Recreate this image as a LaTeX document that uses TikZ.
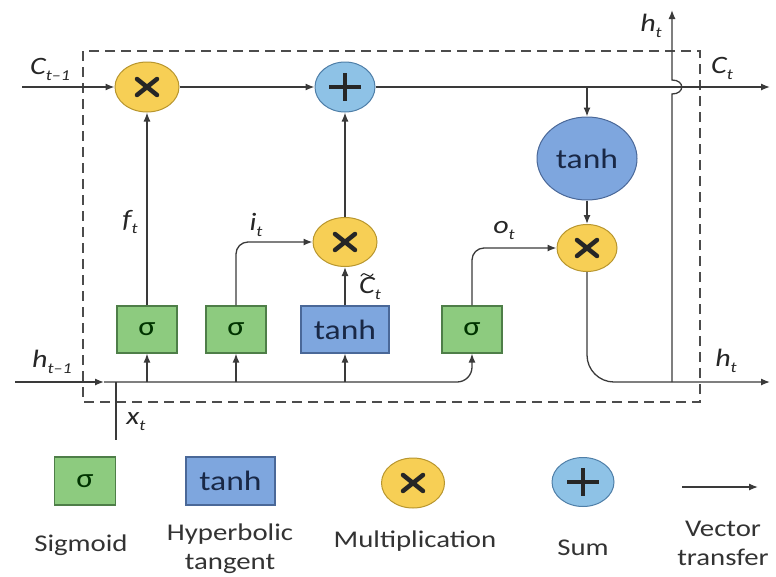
\documentclass[tikz,border=0pt]{standalone}
\usepackage{fontspec}
\setmainfont[FakeStretch=1.2]{Carlito}
\usetikzlibrary{shapes.geometric,arrows.meta}
\definecolor{linec}{HTML}{3A3A3A}
\definecolor{yelf}{HTML}{F7CF55}
\definecolor{yeld}{HTML}{B8962E}
\definecolor{bluf}{HTML}{8EC2E6}
\definecolor{blud}{HTML}{4F7FA8}
\definecolor{tanf}{HTML}{7EA6DE}
\definecolor{tand}{HTML}{4A6898}
\definecolor{grnf}{HTML}{8DCB7F}
\definecolor{grnd}{HTML}{4E7E48}
\definecolor{txtc}{HTML}{333333}
\newcommand\vlab[2]{{\fontsize{25}{25}\selectfont\itshape #1}\raisebox{-6pt}{\fontsize{15}{15}\selectfont\itshape #2}}
\tikzset{
  wire/.style={draw=linec, line width=1.3pt},
  arr/.style={wire, -{Latex[length=9pt,width=7pt]}},
  mulnode/.style={ellipse, draw=yeld, fill=yelf, line width=1pt, inner sep=0pt},
  addnode/.style={ellipse, draw=blud, fill=bluf, line width=1pt, inner sep=0pt},
  sigbox/.style={rectangle, draw=grnd, fill=grnf, line width=1.2pt, minimum width=60pt, minimum height=47pt, inner sep=0pt, font=\fontsize{27}{27}\selectfont, text=green!20!black},
  tanbox/.style={rectangle, draw=tand, fill=tanf, line width=1.2pt, minimum width=88pt, minimum height=47pt, inner sep=0pt, font=\fontsize{28}{28}\selectfont, text={rgb,255:red,25;green,40;blue,70}},
  vlabel/.style={inner sep=0pt, text=black!85},
  legtext/.style={inner sep=0pt, font=\fontsize{24}{29}\selectfont, text=txtc, align=center},
  xmark/.style={line width=4.5pt, line cap=round, black!85},
  pmark/.style={line width=4pt, black!85},
}
\newcommand\crossat[1]{\draw[xmark] ([shift={(-10,-8)}]#1.center) -- ([shift={(10,8)}]#1.center);
  \draw[xmark] ([shift={(-10,8)}]#1.center) -- ([shift={(10,-8)}]#1.center);}
\newcommand\plusat[1]{\draw[pmark] ([shift={(-16,0)}]#1.center) -- ([shift={(16,0)}]#1.center);
  \draw[pmark] ([shift={(0,-14)}]#1.center) -- ([shift={(0,14)}]#1.center);}
\begin{document}
\begin{tikzpicture}[x=1pt,y=-1pt]
\useasboundingbox (0,0) rectangle (776,576);
% dashed cell border
\draw[draw=black!70, line width=1.6pt, dash pattern=on 10pt off 6pt] (83,51) rectangle (700,402);
% nodes
\node[mulnode, minimum width=64pt, minimum height=50pt] (mf) at (147,87) {};
\node[addnode, minimum width=60pt, minimum height=50pt] (add) at (345,87) {};
\node[mulnode, minimum width=64pt, minimum height=49pt] (mi) at (345,242) {};
\node[ellipse, draw=tand, fill=tanf, line width=1pt, inner sep=0pt, minimum width=100pt, minimum height=83pt, font=\fontsize{28}{28}\selectfont, text={rgb,255:red,25;green,40;blue,70}] (te) at (587,158.5) {tanh};
\node[mulnode, minimum width=60pt, minimum height=47pt] (mo) at (587,248) {};
\node[sigbox] (s1) at (147,329.5) {σ};
\node[sigbox] (s2) at (236,329.5) {σ};
\node[tanbox] (tb) at (345,329.5) {tanh};
\node[sigbox] (s3) at (472,329.5) {σ};
\crossat{mf}\crossat{mi}\crossat{mo}\plusat{add}
% coordinates
\coordinate (cin) at (22,87);
\coordinate (cout) at (770,87);
\coordinate (ctap) at (587,87);
\coordinate (hin) at (15,382);
\coordinate (hend) at (104,382);
\coordinate (hout) at (770,382);
\coordinate (xtop) at (116,382);
\coordinate (xbot) at (116,440);
\coordinate (hbase) at (672,382);
\coordinate (hop1) at (672,94);
\coordinate (hop2) at (672,80);
\coordinate (htop) at (672,10);
% cell state line
\draw[arr] (cin) -- (mf);
\draw[arr] (mf) -- (add);
\draw[arr] (add) -- (cout);
\draw[arr] (ctap) -- (te);
\draw[arr] (te) -- (mo);
% hidden input
\draw[arr] (hin) -- (hend);
\draw[wire] (xtop) -- (xbot);
\draw[arr, rounded corners=15pt] (hend) -| (s3.south);
\draw[arr] (s1.south |- hend) -- (s1.south);
\draw[arr] (s2.south |- hend) -- (s2.south);
\draw[arr] (tb.south |- hend) -- (tb.south);
% gates
\draw[arr] (s1.north) -- (mf.south);
\draw[arr, rounded corners=12pt] (s2.north) |- (mi.west);
\draw[arr] (tb.north) -- (mi.south);
\draw[arr] (mi.north) -- (add.south);
\draw[arr, rounded corners=12pt] (s3.north) |- (mo.west);
% output
\draw[arr, rounded corners=27pt] (mo.south) |- (hout);
\draw[arr] (hbase) -- (hop1) .. controls (685,94) and (685,80) .. (hop2) -- (htop);
% labels
\node[vlabel] (lc0) at (50,69) {\vlab{C}{t–1}};
\node[vlabel] (lc1) at (722,68) {\vlab{C}{t}};
\node[vlabel] (lh0) at (52,362) {\vlab{h}{t–1}};
\node[vlabel] (lh1) at (726,361) {\vlab{h}{t}};
\node[vlabel] (lh2) at (651,26) {\vlab{h}{t}};
\node[vlabel] (lx) at (136,422) {\vlab{x}{t}};
\node[vlabel] (lf) at (130,222) {\vlab{f}{t}};
\node[vlabel] (li) at (256,225) {\vlab{i}{t}};
\node[vlabel] (lct) at (370,288) {\vlab{C}{t}};
\draw[line width=1.1pt, black!85, line cap=round] ([shift={(-9,-12)}]lct.center) .. controls ([shift={(-7,-15)}]lct.center) and ([shift={(-5,-15)}]lct.center) .. ([shift={(-3,-13)}]lct.center) .. controls ([shift={(-1,-11)}]lct.center) and ([shift={(1,-11)}]lct.center) .. ([shift={(3,-14)}]lct.center);
\node[vlabel] (lo) at (504,230) {\vlab{o}{t}};
% legend
\node[sigbox, minimum width=61pt, minimum height=48pt] (lgs) at (85,481) {σ};
\node[tanbox, minimum width=89pt, minimum height=48pt] (lgt) at (230.5,481) {tanh};
\node[mulnode, minimum width=63pt, minimum height=50pt] (lgm) at (413,483) {};
\node[addnode, minimum width=62pt, minimum height=49pt] (lga) at (583,482) {};
\crossat{lgm}\plusat{lga}
\coordinate (lgv1) at (682,487);
\coordinate (lgv2) at (758,487);
\draw[arr] (lgv1) -- (lgv2);
\node[legtext] (tgs) at (81,545) {Sigmoid};
\node[legtext] (tgt) at (230,549) {Hyperbolic\\tangent};
\node[legtext] (tgm) at (415,541) {Multiplication};
\node[legtext] (tga) at (583,548) {Sum};
\node[legtext] (tgv) at (723,543) {Vector\\transfer};
\end{tikzpicture}
\end{document}
